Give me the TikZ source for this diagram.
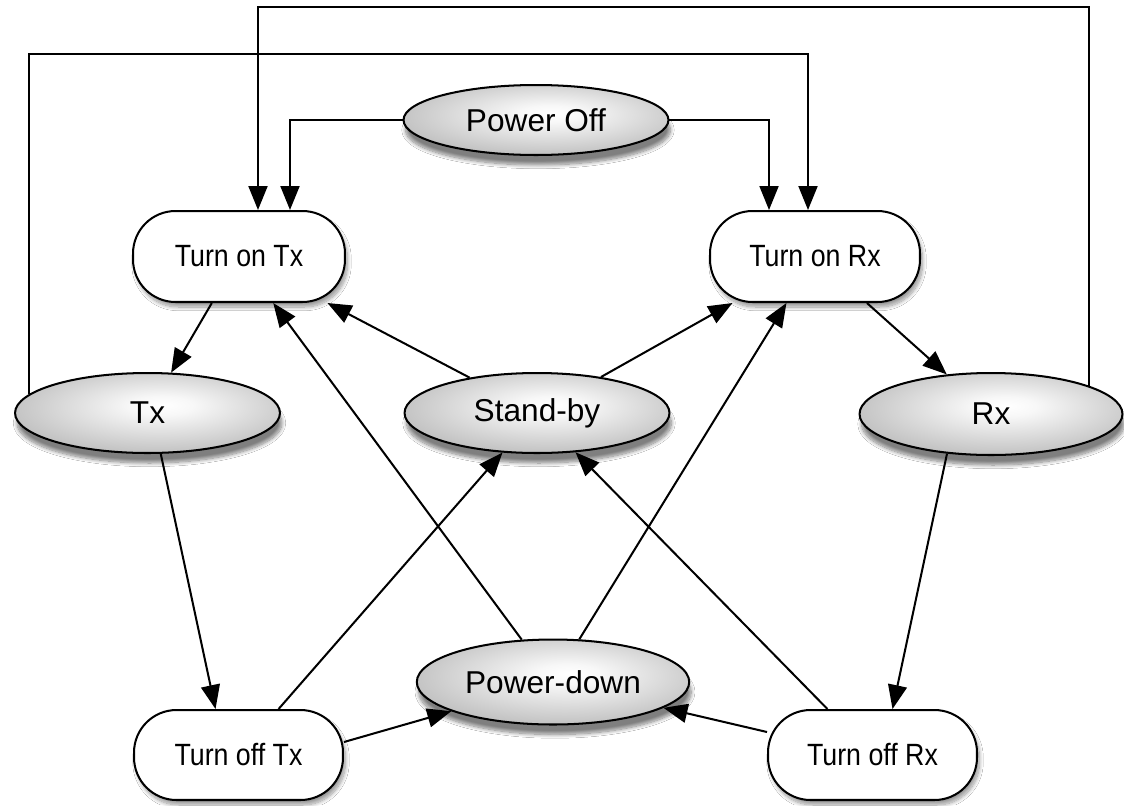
\documentclass[tikz,border=0pt]{standalone}
\usepackage{fontspec}
\setmainfont{Liberation Sans}
\newfontfamily\narrowsf[FakeStretch=0.87]{Liberation Sans}
\usetikzlibrary{shapes.geometric,arrows.meta,shadows.blur}
\pgfdeclareradialshading{ellshade}{\pgfpoint{3bp}{5bp}}{color(0bp)=(white); color(6bp)=(white!97!black); color(50bp)=(black!45); color(70bp)=(black!50)}
\tikzset{
  ell/.style={ellipse, draw, line width=1.15pt, shading=ellshade, inner sep=0pt,
    font=\fontsize{18}{20}\selectfont,
    blur shadow={shadow xshift=0.04cm, shadow yshift=-0.2cm, shadow blur steps=10, shadow opacity=50}},
  box/.style={rectangle, rounded corners=0.85cm, draw, line width=1.15pt, fill=white, inner sep=0pt,
    font=\narrowsf\fontsize{17.5}{20}\selectfont,
    blur shadow={shadow xshift=0.05cm, shadow yshift=-0.1cm, shadow blur steps=10, shadow opacity=40}},
  arr/.style={-{Triangle[length=0.48cm,width=0.38cm]}, line width=1.15pt}
}
\begin{document}
\begin{tikzpicture}[x=0.02cm,y=-0.02cm]
\useasboundingbox (0,0) rectangle (1124,805);
\fill[white] (0,0) rectangle (1124,805);
% nodes
\node[ell, minimum width=5.3cm, minimum height=1.4cm] (poweroff) at (536,120) {Power Off};
\node[box, minimum width=4.24cm, minimum height=1.82cm] (tonTx) at (239,256.5) {Turn on Tx};
\node[box, minimum width=4.2cm, minimum height=1.82cm] (tonRx) at (815,256.5) {Turn on Rx};
\node[ell, minimum width=5.3cm, minimum height=1.6cm] (tx) at (147.5,413) {Tx};
\node[ell, minimum width=5.3cm, minimum height=1.6cm] (standby) at (537,413) {Stand-by};
\node[ell, minimum width=5.26cm, minimum height=1.64cm] (rx) at (991,414) {Rx};
\node[ell, minimum width=5.45cm, minimum height=1.7cm] (powerdown) at (553,682) {Power-down};
\node[box, minimum width=4.18cm, minimum height=1.8cm] (toffTx) at (238.5,755) {Turn off Tx};
\node[box, minimum width=4.18cm, minimum height=1.8cm] (toffRx) at (872.5,755) {Turn off Rx};
\coordinate (topA) at (0,54);
\coordinate (topB) at (0,7);
% connectors
\draw[arr] (poweroff.west) -| ([xshift=1.02cm]tonTx.north);
\draw[arr] (poweroff.east) -| ([xshift=-0.92cm]tonRx.north);
\draw[arr] (tx.171) -- (tx.171 |- topA) -| ([xshift=-0.14cm]tonRx.north);
\draw[arr] (rx.16) -- (rx.16 |- topB) -| ([xshift=0.38cm]tonTx.north);
\draw[arr] (tonTx) -- (tx);
\draw[arr] (tonRx) -- (rx);
\draw[arr] (standby) -- (tonTx);
\draw[arr] (standby) -- (tonRx);
\draw[arr] (powerdown) -- (tonTx);
\draw[arr] (powerdown) -- (tonRx);
\draw[arr] (toffTx) -- (standby);
\draw[arr] (toffRx) -- (standby);
\draw[arr] (tx.-72) -- ([xshift=-0.46cm]toffTx.north);
\draw[arr] (rx.-138) -- ([xshift=0.4cm]toffRx.north);
\draw[arr] ([yshift=0.26cm]toffTx.east) -- (powerdown);
\draw[arr] ([yshift=0.46cm]toffRx.west) -- (powerdown);
\end{tikzpicture}
\end{document}
